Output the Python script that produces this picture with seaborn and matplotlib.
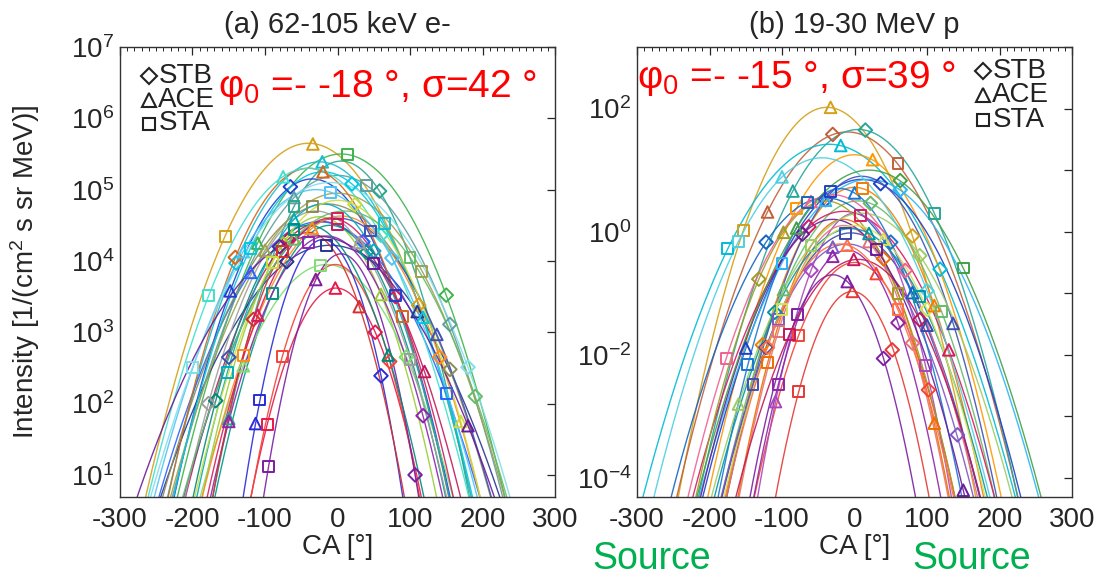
import numpy as np
import pandas as pd
import matplotlib
matplotlib.use("Agg")
import matplotlib.pyplot as plt
import seaborn as sns
from matplotlib.ticker import FixedLocator, MultipleLocator, FuncFormatter, NullLocator

nan = np.nan

# ---------------- panel (a): 62-105 keV electrons ----------------
# Gaussian fit per event: log10 peak intensity, centre CA [deg], width sigma [deg]
E_PEAK = [5.65, 5.50, 5.39, 5.40, 5.15, 4.55, 4.62, 4.22, 4.55, 4.50, 3.95, 3.62,
          3.95, 4.30, 4.10, 4.35, 4.80, 5.20, 4.95, 5.25, 4.60, 4.63, 5.30, 5.30,
          5.00, 4.50, 4.70, 4.40, 4.80, 4.85, 4.60, 5.10, 4.70, 4.35]
E_CENTER = [-40, 5, -25, 5, -35, -20, -25, -10, -25, -10, -15, -2,
            -3, -20, 5, -15, -15, 0, 0, -20, 0, 5, -40, -40,
            -30, -40, -30, -40, -20, 0, -10, -10, 10, -30]
E_WIDTH = [47, 48, 45, 38, 42, 45, 38, 58, 52.5, 38, 45, 32,
           30, 27, 27, 39, 52, 50, 52, 45, 50, 45, 42, 48,
           50, 38, 42, 32, 40, 45, 40, 55, 52, 60]
# observed points (CA [deg], log10 intensity) at each spacecraft
E_STB_CA = [112, 150, -140, 58, -65, -68, -75, -70, 35, 40, 95, 52,
            72, 60, 107, 118, 155, 155, nan, 20, -150, 141, -141, 60,
            75, -168, -178, -116, 50, 24, 80, 180, 190, -80]
E_STB_LOG = [3.38, 3.52, 3.97, 4.98, 5.04, 4.30, 4.24, 3.99, 4.27, 4.12, 2.65, 3.00,
             2.59, 2.39, 1.00, 1.83, 2.48, 3.11, nan, 5.08, 2.65, 2.65, 4.05, 4.36,
             4.04, 2.04, 2.00, 3.18, 4.14, 4.79, 3.50, 2.51, 2.10, 4.20]
E_ACE_CA = [-34, -110, -21, -150, -148, 120, 60, 110, -120, nan, -130, -3,
            nan, -113, -30, -150, nan, -60, -100, 118, 137, -35, -20, -75,
            -130, 70, 30, 30, -60, 170, -110, nan, -60, 180]
E_ACE_LOG = [5.64, 4.25, 5.39, 1.79, 3.58, 2.45, 3.53, 3.29, 3.84, nan, 2.53, 3.62,
             nan, 1.72, 3.74, 1.75, nan, 4.89, 4.15, 3.21, 2.97, 4.46, 5.25, 5.18,
             4.13, 2.68, 4.26, 3.36, 4.58, 1.75, 3.24, nan, 4.31, 1.69]
E_STA_CA = [-155, 14, 65, -60, 80, 0, nan, -15, 150, -90, -24, -97,
            -76, -107, -95, -40, -34, 40, 116, -120, 45, -130, 90, -178,
            -10, -60, 100, -76, -152, -90, 0, -200, 100, 50]
E_STA_LOG = [4.34, 5.49, 4.52, 4.77, 3.51, 4.51, nan, 4.22, 2.14, 3.54, 3.94, 1.71,
             2.66, 2.05, 1.12, 4.26, 4.77, 5.06, 3.85, 4.18, 4.42, 2.68, 3.22, 3.51,
             4.96, 4.44, 2.62, 4.13, 2.44, 3.98, 4.59, 2.51, 4.05, 3.96]
E_COLORS = ['#d4a017', '#3cb44b', '#17becf', '#2ca58d', '#1f3fd0', '#c2185b', '#9acd32',
            '#283593', '#2962ff', '#009688', '#7fdc6f', '#e6194b', '#f44336', '#2b2bd6',
            '#7b1fa2', '#8e24aa', '#8c8c5a', '#5f9ea0', '#a0a050', '#00c8e0', '#3f51b5',
            '#ff8c1a', '#d2691e', '#40e0d0', '#4fc3f7', '#00897b', '#9e9e9e', '#d32f2f',
            '#00acc1', '#cddc39', '#d81b60', '#80deea', '#66bb6a', '#6a1b9a']

# ---------------- panel (b): 19-30 MeV protons ----------------
P_PEAK = [2.02, 1.62, 1.66, 1.42, 1.25, 0.85, 0.85, 0.72, 0.50, 0.33, -0.02, 0.55,
          -0.97, -0.50, 0.30, 0.90, -0.20, 0.10, 0.60, 0.70, 0.20, -0.30, -0.70, 0.50,
          -0.45, 0.20, 1.20, 1.00, 0.30, 0.05, 0.10, -0.20]
P_CENTER = [-38, -10, 5, -35, 0, 10, 20, 0, 5, -15, -5, -40,
            -3, 0, 0, 10, -10, -15, -30, -20, -15, -10, -30, -40,
            5, -30, -45, 20, 10, -5, 0, -20]
P_WIDTH = [38, 45, 42, 50, 40, 45, 48, 37, 40, 45, 40, 45,
           27, 33, 29, 38, 40, 32, 42, 35, 32, 30, 28, 38,
           40, 40, 46, 48, 45, 42, 40, 36]
P_STB_CA = [80, -30, 15, 118, nan, 36, 63, -127, 22, -63, -122, -122,
            52, 102, -60, -40, 142, 80, 70, 50, 40, 60, 40, -132,
            90, -72, 100, 63, 90, -110, 100, -120]
P_STB_LOG = [-0.07, 1.58, 1.65, -0.61, nan, 0.78, 0.68, -1.84, 0.46, 0.08, -1.88, -0.17,
             -1.92, -2.57, -0.63, 0.52, -3.30, -1.81, -0.63, -0.17, -0.44, -1.48, -2.06, -0.77,
             -1.43, -0.04, -0.96, 0.83, -0.39, -1.31, -1.26, -1.88]
P_ACE_CA = [-33, -120, -85, -19, 25, -150, -40, 110, -98, 130, 100, 80,
            -3, 30, -109, 136, -30, 20, -60, 0, 110, -30, -10, -98,
            -1, 150, -100, -80, -160, 20, 40, -10]
P_ACE_LOG = [2.02, 0.32, 0.66, 1.40, 1.17, -1.89, 0.51, -1.20, -0.94, -1.92, -1.52, -0.99,
             -0.97, -0.68, -2.76, -1.49, -0.25, -0.16, 0.49, 0.63, -3.11, -0.40, -0.81, -0.01,
             -0.45, -4.20, 0.89, 0.06, -2.80, -0.03, -0.12, -0.22]
P_STA_CA = [-153, 60, 110, -175, -80, -33, -100, 11, 120, 8, -12, -65,
            -77, -77, 98, -140, -105, -105, -177, -147, -120, -105, -78, 60,
            -90, 30, -160, 150, -60, 90, -100, 60]
P_STA_LOG = [0.02, 1.10, 0.30, -0.28, 0.38, 0.65, -0.51, 0.70, -1.29, 0.27, -0.03, 0.48,
             -2.60, -1.68, -2.18, -2.48, -1.42, -1.62, -2.06, -2.16, -2.13, -2.48, -1.34, -1.00,
             -1.67, -0.29, -0.16, -0.59, -0.23, -1.06, -1.26, -1.27]
P_COLORS = ['#d4a017', '#c0603a', '#26a69a', '#00bcd4', '#ff9800', '#1e40c8', '#29b6f6',
            '#f57c00', '#66bb6a', '#d81b60', '#3949ab', '#1565c0', '#e53935', '#f44336',
            '#ab47bc', '#3f51b5', '#7e57c2', '#e57373', '#f06292', '#1976d2', '#ef6c00',
            '#8e24aa', '#7b1fa2', '#9e9d24', '#c2185b', '#6a1b9a', '#4dd0e1', '#43a047',
            '#9ccc65', '#0097a7', '#d4e157', '#ff7043']

SPACECRAFT = ['STB', 'ACE', 'STA']
SC_MARKERS = {'STB': 'D', 'ACE': '^', 'STA': 's'}
SC_SIZES = {'STB': 48, 'ACE': 70, 'STA': 62}

sns.set_theme(style="white")
plt.rcParams['font.family'] = ['Liberation Sans', 'DejaVu Sans']
plt.rcParams['mathtext.fontset'] = 'custom'
plt.rcParams['mathtext.rm'] = 'Liberation Sans'
plt.rcParams['mathtext.it'] = 'Liberation Sans:italic'
plt.rcParams['mathtext.bf'] = 'Liberation Sans:bold'
plt.rcParams['axes.unicode_minus'] = False

W, H = 1099, 579
TXT = '#262626'
FS = 20
fig = plt.figure(figsize=(W / 100, H / 100), dpi=100)


def px_axes(x0, x1, y0, y1):
    return fig.add_axes([x0 / W, 1 - y1 / H, (x1 - x0) / W, (y1 - y0) / H])


def draw_panel(ax, peak, center, width, colors, obs, ylim):
    names = [f"ev{i:02d}" for i in range(len(peak))]
    pal = dict(zip(names, colors))
    ca = np.arange(-300, 300.5, 1.0)
    rows = []
    for n, p, c, s in zip(names, peak, center, width):
        inten = 10.0 ** p * np.exp(-(ca - c) ** 2 / (2.0 * s ** 2))
        rows.append(pd.DataFrame({'event': n, 'ca': ca, 'I': inten}))
    curves = pd.concat(rows, ignore_index=True)
    ax.set_yscale('log')
    sns.lineplot(data=curves, x='ca', y='I', hue='event', palette=pal, legend=False,
                 estimator=None, linewidth=1.0, alpha=0.9, ax=ax)
    for sc in SPACECRAFT:
        cas, logs = obs[sc]
        df = pd.DataFrame({'event': names, 'ca': cas, 'I': 10.0 ** np.asarray(logs, float)})
        df = df.dropna()
        sns.scatterplot(data=df, x='ca', y='I', hue='event', palette=pal, legend=False,
                        marker=SC_MARKERS[sc], s=SC_SIZES[sc], linewidth=1.4, ax=ax, zorder=3)
        coll = ax.collections[-1]
        fc = coll.get_facecolors()
        coll.set_edgecolors(fc)
        coll.set_facecolors('none')
    ax.set_xlim(-300, 300)
    ax.set_ylim(*ylim)
    ax.xaxis.set_major_locator(MultipleLocator(100))
    ax.xaxis.set_minor_locator(MultipleLocator(10))
    ax.yaxis.set_minor_locator(NullLocator())
    ax.tick_params(axis='both', which='both', direction='in', top=True, right=True,
                   colors=TXT, labelsize=FS)
    ax.tick_params(which='major', length=6, width=0.9)
    ax.tick_params(which='minor', length=3, width=0.7)
    ax.tick_params(axis='x', pad=7)
    ax.tick_params(axis='y', pad=4)
    for sp in ax.spines.values():
        sp.set_visible(True)
        sp.set_color('#333333')
        sp.set_linewidth(1.0)
    ax.set_xlabel('CA [°]', fontsize=FS, color=TXT, labelpad=1)
    ax.set_ylabel('')


def decade_fmt(step):
    def f(v, pos):
        e = int(round(np.log10(v)))
        if e % step:
            return ''
        return r'$\mathdefault{10^{%d}}$' % e
    return FuncFormatter(f)


def sc_legend(ax, x_mark, x_text, ys):
    for sc, y in zip(SPACECRAFT, ys):
        ax.plot([x_mark], [y], transform=ax.transAxes, marker=SC_MARKERS[sc], color='#222222',
                mfc='none', mew=1.5, ms={'STB': 8, 'ACE': 10, 'STA': 9}[sc], ls='none',
                clip_on=False, zorder=5)
        ax.text(x_text, y, sc, transform=ax.transAxes, fontsize=FS, color='#222222',
                va='center', ha='left', zorder=5)


# ---- panel (a)
axa = px_axes(120, 555, 47, 497)
draw_panel(axa, E_PEAK, E_CENTER, E_WIDTH, E_COLORS,
           {'STB': (E_STB_CA, E_STB_LOG), 'ACE': (E_ACE_CA, E_ACE_LOG), 'STA': (E_STA_CA, E_STA_LOG)},
           (10 ** 0.69, 1e7))
axa.yaxis.set_major_locator(FixedLocator([10.0 ** k for k in range(1, 8)]))
axa.yaxis.set_major_formatter(decade_fmt(1))
axa.set_title('(a) 62-105 keV e-', fontsize=21, color=TXT, pad=10)
axa.set_ylabel('Intensity [1/(cm$^2$ s sr MeV)]', fontsize=FS, color=TXT)
axa.yaxis.set_label_coords(-0.18, 0.5)
sc_legend(axa, 0.066, 0.088, [0.935, 0.883, 0.830])

# ---- panel (b)
axb = px_axes(637, 1072, 47, 497)
draw_panel(axb, P_PEAK, P_CENTER, P_WIDTH, P_COLORS,
           {'STB': (P_STB_CA, P_STB_LOG), 'ACE': (P_ACE_CA, P_ACE_LOG), 'STA': (P_STA_CA, P_STA_LOG)},
           (10 ** -4.31, 1e3))
axb.yaxis.set_major_locator(FixedLocator([10.0 ** k for k in range(-4, 4)]))
axb.yaxis.set_major_formatter(decade_fmt(2))
axb.set_title('(b) 19-30 MeV p', fontsize=21, color=TXT, pad=10)
sc_legend(axb, 0.795, 0.817, [0.947, 0.893, 0.838])

# ---- fitted-parameter annotations
fig.text(218 / W, 1 - 97 / H, 'φ$_0$ =- -18 °, σ=42 °', color='#ff0000', fontsize=28,
         ha='left', va='baseline', zorder=10)
fig.text(637 / W, 1 - 88 / H, 'φ$_0$ =- -15 °, σ=39 °', color='#ff0000', fontsize=28,
         ha='left', va='baseline', zorder=10)

# ---- source captions along the bottom edge
fig.text(592 / W, 2 / H, 'Source', color='#00b050', fontsize=27, ha='left', va='bottom')
fig.text(912 / W, 2 / H, 'Source', color='#00b050', fontsize=27, ha='left', va='bottom')

fig.savefig('out.png', dpi=100)
